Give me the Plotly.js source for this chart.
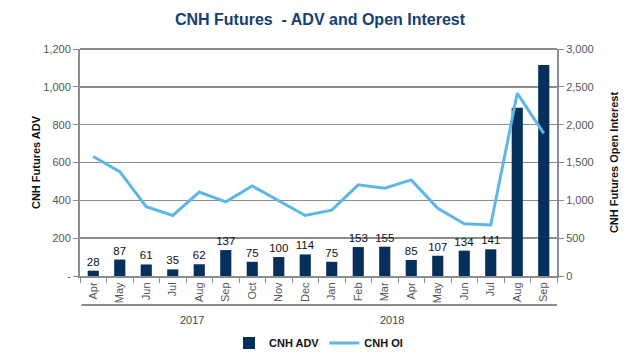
<!DOCTYPE html>
<html>
<head>
<meta charset="utf-8">
<script src="https://cdn.plot.ly/plotly-3.0.1.min.js"></script>
<style>html,body{margin:0;padding:0;background:#fff;}#chart{width:640px;height:360px;}</style>
</head>
<body>
<div id="chart"></div>
<script>
const categories = ["2017-Apr","2017-May","2017-Jun","2017-Jul","2017-Aug","2017-Sep","2017-Oct","2017-Nov","2017-Dec","2018-Jan","2018-Feb","2018-Mar","2018-Apr","2018-May","2018-Jun","2018-Jul","2018-Aug","2018-Sep"];
const monthLabels = ["Apr","May","Jun","Jul","Aug","Sep","Oct","Nov","Dec","Jan","Feb","Mar","Apr","May","Jun","Jul","Aug","Sep"];
const years = ["2017","2018"];
const advValues = [28,87,61,35,62,137,75,100,114,75,153,155,85,107,134,141,890,1115];
const oiValues = [1580,1380,915,800,1110,980,1190,995,800,870,1205,1160,1270,895,690,675,2415,1885];
const labeledCount = 16;
const leftTickVals = [0,200,400,600,800,1000,1200];
const leftTickText = ["-","200","400","600","800","1,000","1,200"];
const rightTickVals = [0,500,1000,1500,2000,2500,3000];
const rightTickText = ["0","500","1,000","1,500","2,000","2,500","3,000"];

const barText = advValues.map((v,i) => i < labeledCount ? String(v) : "");

const font = "Liberation Sans, Arial, sans-serif";
const grid = "#8c8c8c";

const data = [
  {
    type: "bar", name: "CNH ADV", x: categories, y: advValues,
    marker: {color: "#062f5b"},
    text: barText, textposition: "outside", cliponaxis: false, constraintext: "none",
    textfont: {family: font, size: 11.5, color: "#111"},
    hoverinfo: "y"
  },
  {
    type: "scatter", mode: "lines", name: "CNH OI", x: categories, y: oiValues,
    yaxis: "y2", line: {color: "#5db6e6", width: 3}
  }
];

const layout = {
  width: 640, height: 360,
  margin: {l: 80, r: 83, t: 49, b: 84, autoexpand: false},
  paper_bgcolor: "#fff", plot_bgcolor: "#fff",
  showlegend: true,
  bargap: 0.58,
  title: {text: "<b>CNH Futures  - ADV and Open Interest</b>", x: 0.5, xanchor: "center", y: 0.945, yanchor: "middle",
          font: {family: font, size: 16, color: "#15406f"}},
  font: {family: font, size: 11, color: "#555"},
  xaxis: {
    type: "category", tickmode: "array", tickvals: categories, ticktext: monthLabels,
    tickangle: -90, tickfont: {size: 11, color: "#555"}, automargin: false,
    ticks: "outside", tickson: "boundaries", ticklen: 5, tickcolor: grid,
    showline: true, linecolor: grid, linewidth: 2, showgrid: false, zeroline: false,
    range: [-0.5, 17.5]
  },
  yaxis: {
    range: [0, 1200], tickvals: leftTickVals, ticktext: leftTickText, automargin: false,
    showgrid: true, gridcolor: grid, gridwidth: 1.5,
    showline: true, linecolor: grid, linewidth: 2,
    ticks: "outside", ticklen: 5, tickcolor: grid, zeroline: false,
    tickfont: {size: 11, color: "#555"},
    title: {text: "<b>CNH Futures ADV</b>", font: {size: 11, color: "#111"}, standoff: 0}
  },
  yaxis2: {
    range: [0, 3000], tickvals: rightTickVals, ticktext: rightTickText, automargin: false,
    overlaying: "y", side: "right", showgrid: false,
    showline: true, linecolor: grid, linewidth: 2,
    ticks: "outside", ticklen: 5, tickcolor: grid, zeroline: false,
    tickfont: {size: 11, color: "#555"},
    title: {text: "<b>CNH Futures Open Interest</b>", font: {size: 11, color: "#111"}, standoff: 18}
  },
  legend: {orientation: "h", x: 0.5, xanchor: "center", y: -0.295, yanchor: "middle",
           font: {size: 11, color: "#111", family: font, weight: "bold"}, traceorder: "normal",
           itemwidth: 30, bgcolor: "rgba(0,0,0,0)"},
  shapes: [
    {type: "line", xref: "paper", yref: "paper", x0: 0, x1: 1, y0: 1, y1: 1,
     line: {color: grid, width: 2}}
  ],
  annotations: [
    {text: "", xref: "paper", yref: "paper", x: 1, y: -0.128, showarrow: true,
     axref: "pixel", ayref: "pixel", ax: -477, ay: 0, arrowhead: 0, arrowwidth: 2,
     arrowcolor: "#8c8c8c", standoff: 0, startstandoff: 0},
    {text: years[0], xref: "paper", yref: "paper", x: 0.205, y: -0.195, yanchor: "middle", showarrow: false,
     font: {size: 11, color: "#444"}},
    {text: years[1], xref: "paper", yref: "paper", x: 0.655, y: -0.195, yanchor: "middle", showarrow: false,
     font: {size: 11, color: "#444"}}
  ]
};

Plotly.newPlot("chart", data, layout, {displayModeBar: false, staticPlot: true});
</script>
</body>
</html>
